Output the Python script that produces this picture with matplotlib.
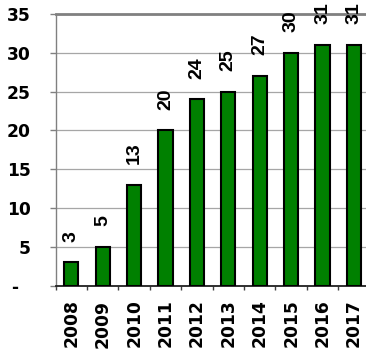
import numpy as np
import matplotlib
matplotlib.use("Agg")
import matplotlib.pyplot as plt

# Дані графіка
years = ["2008", "2009", "2010", "2011", "2012", "2013", "2014", "2015", "2016", "2017"]
values = [3, 5, 13, 20, 24, 25, 27, 30, 31, 31]
y_ticks = [0, 5, 10, 15, 20, 25, 30, 35]
y_tick_labels = ["-  ", "5", "10", "15", "20", "25", "30", "35"]

fig = plt.figure(figsize=(3.66, 3.51), dpi=100)
ax = fig.add_axes([0.152, 0.186, 0.858, 0.774])

x = np.arange(len(years))
bars = ax.bar(x, values, width=0.45, color="#008000", edgecolor="black", linewidth=1.5, zorder=3)

# Підписи значень над стовпцями
for xi, v in zip(x, values):
    ax.annotate(str(v), xy=(xi, v), xytext=(0, 15), textcoords="offset points",
                rotation=90, ha="center", va="bottom",
                fontsize=14, fontweight="bold", family="Liberation Sans")

ax.set_xlim(-0.5, len(years) - 0.5)
ax.set_ylim(0, 35)

# Осі та сітка
ax.set_yticks(y_ticks)
ax.set_yticklabels(y_tick_labels, fontsize=12.3, fontweight="bold", family="DejaVu Sans")
ax.set_xticks(x)
ax.set_xticklabels(years, rotation=90, fontsize=12.3, fontweight="bold", family="DejaVu Sans")
ax.set_xticks(np.arange(-0.5, len(years)), minor=True)

ax.tick_params(axis="x", which="major", length=0, pad=10)
ax.tick_params(axis="x", which="minor", length=3, width=1, color="#404040", direction="out")
ax.tick_params(axis="y", which="major", length=4, width=1, color="#808080", pad=14)

ax.yaxis.grid(True, color="#a6a6a6", linewidth=0.9, zorder=0)
ax.set_axisbelow(True)

ax.spines["right"].set_visible(False)
ax.spines["top"].set_color("#808080")
ax.spines["top"].set_linewidth(2.0)
ax.spines["left"].set_color("#808080")
ax.spines["left"].set_linewidth(1.0)
ax.spines["bottom"].set_color("#202020")
ax.spines["bottom"].set_linewidth(1.3)

fig.savefig("out.png", dpi=100)
